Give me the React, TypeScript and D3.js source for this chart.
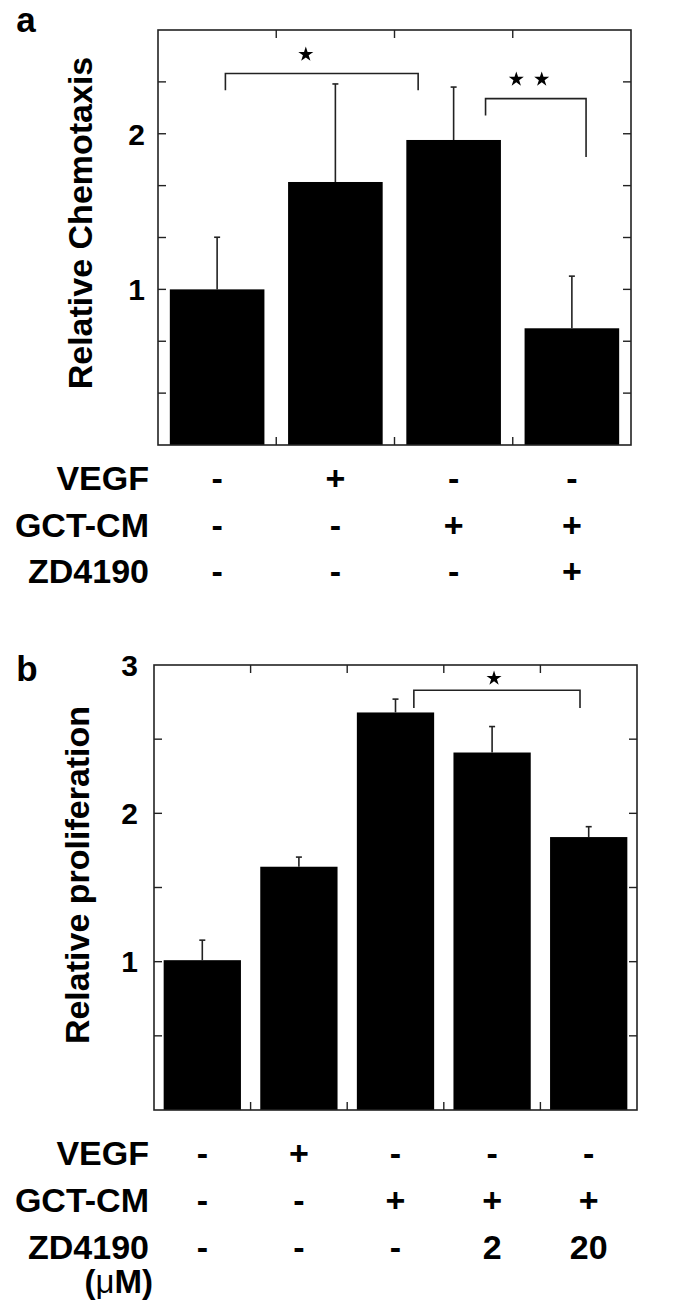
import React from "react";
import * as d3 from "d3";

// ---------- Panel a data ----------
const chemoCategories = ["Control", "VEGF", "GCT-CM", "GCT-CM+ZD4190"];
const chemoValues = [1.0, 1.69, 1.96, 0.75];
const chemoErrors = [0.335, 0.63, 0.34, 0.335];
const chemoTicks = [1, 2];
const chemoMinorStep = 1 / 3;
const chemoMax = 8 / 3;
const chemoRowLabels = ["VEGF", "GCT-CM", "ZD4190"];
const chemoVEGF = ["-", "+", "-", "-"];
const chemoGCT = ["-", "-", "+", "+"];
const chemoZD = ["-", "-", "-", "+"];
const chemoBrackets = [
  { from: 0.07, to: 1.7, y: 2.387, leftEnd: 2.28, rightEnd: 2.28, stars: [0.75], starY: 2.51 },
  { from: 2.27, to: 3.12, y: 2.226, leftEnd: 2.118, rightEnd: 1.85, stars: [2.53, 2.745], starY: 2.35 },
];

// ---------- Panel b data ----------
const profCategories = ["Control", "VEGF", "GCT-CM", "GCT-CM+ZD2", "GCT-CM+ZD20"];
const profValues = [1.01, 1.64, 2.68, 2.41, 1.84];
const profErrors = [0.135, 0.065, 0.09, 0.175, 0.07];
const profTicks = [1, 2, 3];
const profMinorStep = 0.5;
const profMax = 3;
const profRowLabels = ["VEGF", "GCT-CM", "ZD4190"];
const profVEGF = ["-", "+", "-", "-", "-"];
const profGCT = ["-", "-", "+", "+", "+"];
const profZD = ["-", "-", "-", "2", "20"];
const profBrackets = [
  { from: 2.19, to: 3.91, y: 2.83, leftEnd: 2.71, rightEnd: 2.71, stars: [3.02], starY: 2.91 },
];

const FONT = "'Liberation Sans', Arial, Helvetica, sans-serif";
const LINE = "#222";

type Bracket = { from: number; to: number; y: number; leftEnd: number; rightEnd: number; stars: number[]; starY: number };

type PanelProps = {
  letter: string;
  letterX: number;
  letterY: number;
  categories: string[];
  values: number[];
  errors: number[];
  ticks: number[];
  minorStep: number;
  max: number;
  left: number;
  right: number;
  top: number;
  bottom: number;
  yLabel: string;
  yLabelX: number;
  yLabelY: number;
  tickLabelX: number;
  rows: string[][];
  rowLabels: string[];
  rowBaselines: number[];
  extraLabelY?: number;
  brackets: Bracket[];
};

function Panel(p: PanelProps) {
  const x = d3.scaleBand<string>().domain(p.categories).range([p.left, p.right]).paddingInner(0.2).paddingOuter(0.1);
  const y = d3.scaleLinear().domain([0, p.max]).range([p.bottom, p.top]);
  const step = x.step();
  const center = (i: number) => (x(p.categories[0]) as number) + x.bandwidth() / 2 + i * step;
  const minor = d3.range(p.minorStep, p.max - 1e-6, p.minorStep);
  const boundaries = d3.range(1, p.categories.length).map((i) => p.left + i * ((p.right - p.left) / p.categories.length));
  const star = d3.symbol(d3.symbolStar, 70)() as string;
  const tickLen = 8;
  return (
    <g>
      <text x={p.letterX} y={p.letterY} fontFamily={FONT} fontWeight="bold" fontSize={35} textAnchor="middle">
        {p.letter}
      </text>
      {/* bars */}
      {p.values.map((v, i) => (
        <rect
          key={"bar" + i}
          x={x(p.categories[i])}
          y={y(v)}
          width={x.bandwidth()}
          height={y(0) - y(v)}
          fill="#000"
        />
      ))}
      {/* error bars */}
      {p.values.map((v, i) => {
        const cx = center(i);
        const yt = y(v + p.errors[i]);
        return (
          <g key={"err" + i} stroke={LINE} strokeWidth={1.6}>
            <line x1={cx} x2={cx} y1={y(v)} y2={yt} />
            <line x1={cx - 3} x2={cx + 3} y1={yt} y2={yt} />
          </g>
        );
      })}
      {/* frame */}
      <rect x={p.left} y={p.top} width={p.right - p.left} height={p.bottom - p.top} fill="none" stroke={LINE} strokeWidth={1.6} />
      {/* y minor ticks */}
      {minor.map((t, i) => (
        <g key={"yt" + i} stroke={LINE} strokeWidth={1.4}>
          <line x1={p.left} x2={p.left + tickLen} y1={y(t)} y2={y(t)} />
          <line x1={p.right} x2={p.right - tickLen} y1={y(t)} y2={y(t)} />
        </g>
      ))}
      {/* x ticks at band boundaries */}
      {boundaries.map((bx, i) => (
        <g key={"xt" + i} stroke={LINE} strokeWidth={1.4}>
          <line x1={bx} x2={bx} y1={p.top} y2={p.top + tickLen} />
          <line x1={bx} x2={bx} y1={p.bottom} y2={p.bottom - tickLen} />
        </g>
      ))}
      {/* tick labels */}
      {p.ticks.map((t) => (
        <text
          key={"tl" + t}
          x={p.tickLabelX}
          y={y(t)}
          dy="0.36em"
          textAnchor="end"
          fontFamily={FONT}
          fontWeight="bold"
          fontSize={30}
        >
          {t}
        </text>
      ))}
      {/* y label */}
      <text
        transform={`translate(${p.yLabelX},${p.yLabelY}) rotate(-90)`}
        textAnchor="middle"
        fontFamily={FONT}
        fontWeight="bold"
        fontSize={34}
      >
        {p.yLabel}
      </text>
      {/* brackets */}
      {p.brackets.map((b, i) => (
        <g key={"br" + i}>
          <path
            d={`M${center(b.from)},${y(b.leftEnd)}V${y(b.y)}H${center(b.to)}V${y(b.rightEnd)}`}
            fill="none"
            stroke={LINE}
            strokeWidth={1.6}
          />
          {b.stars.map((s, j) => (
            <path key={j} d={star} transform={`translate(${center(s)},${y(b.starY)})`} fill="#000" />
          ))}
        </g>
      ))}
      {/* condition rows */}
      {p.rows.map((row, r) => (
        <g key={"row" + r} fontFamily={FONT} fontWeight="bold" fontSize={34}>
          <text x={149} y={p.rowBaselines[r]} textAnchor="end">
            {p.rowLabels[r]}
          </text>
          {row.map((s, i) => (
            <text key={i} x={center(i)} y={p.rowBaselines[r]} textAnchor="middle">
              {s}
            </text>
          ))}
        </g>
      ))}
      {p.extraLabelY !== undefined && (
        <text x={153} y={p.extraLabelY} textAnchor="end" fontFamily={FONT} fontSize={33}>
          <tspan fontWeight="bold">(</tspan>
          <tspan fontWeight="normal">μ</tspan>
          <tspan fontWeight="bold">M)</tspan>
        </text>
      )}
    </g>
  );
}

export default function App() {
  return (
    <svg
      width={685}
      height={1305}
      viewBox="0 0 685 1305"
      style={{ position: "absolute", left: 0, top: 0, background: "#fff" }}
    >
      <rect x={0} y={0} width={685} height={1305} fill="#fff" />
      <Panel
        letter="a"
        letterX={26}
        letterY={32}
        categories={chemoCategories}
        values={chemoValues}
        errors={chemoErrors}
        ticks={chemoTicks}
        minorStep={chemoMinorStep}
        max={chemoMax}
        left={158}
        right={631}
        top={30}
        bottom={445}
        yLabel="Relative Chemotaxis"
        yLabelX={92}
        yLabelY={223}
        tickLabelX={145}
        rows={[chemoVEGF, chemoGCT, chemoZD]}
        rowLabels={chemoRowLabels}
        rowBaselines={[490, 537, 583]}
        brackets={chemoBrackets}
      />
      <Panel
        letter="b"
        letterX={27}
        letterY={681}
        categories={profCategories}
        values={profValues}
        errors={profErrors}
        ticks={profTicks}
        minorStep={profMinorStep}
        max={profMax}
        left={154}
        right={637}
        top={665}
        bottom={1110}
        yLabel="Relative proliferation"
        yLabelX={89}
        yLabelY={875}
        tickLabelX={138}
        rows={[profVEGF, profGCT, profZD]}
        rowLabels={profRowLabels}
        rowBaselines={[1165, 1212, 1259]}
        extraLabelY={1293}
        brackets={profBrackets}
      />
    </svg>
  );
}
